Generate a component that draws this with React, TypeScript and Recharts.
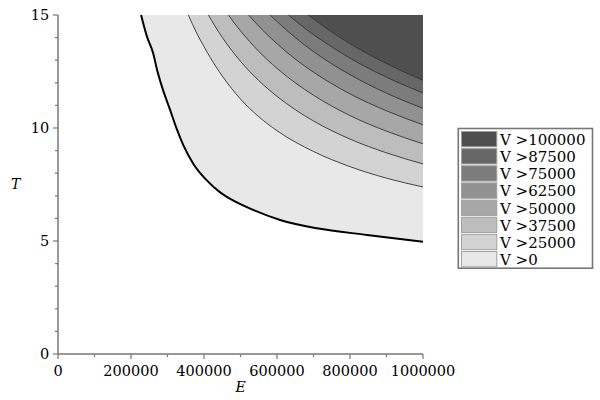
import { ComposedChart, Area, XAxis, YAxis, Legend } from 'recharts';

const FONT = '"DejaVu Serif", serif';
const AXIS = '#777777';

// contour levels, lowest first
const LEVELS = ['V >0', 'V >25000', 'V >37500', 'V >50000', 'V >62500', 'V >75000', 'V >87500', 'V >100000'];
const FILLS = ['#e8e8e8', '#d3d3d3', '#bdbdbd', '#a7a7a7', '#919191', '#7c7c7c', '#676767', '#4f4f4f'];

// each contour as E values and the T
const V0_E = [227600, 244000, 260500, 271500, 285200, 307100, 325500, 343600, 371000, 407700, 444200, 472000, 535500, 608700, 709400, 846500, 1000000];
const V0_T = [15, 14.03, 13.32, 12.57, 11.81, 10.8, 9.95, 9.23, 8.41, 7.68, 7.15, 6.86, 6.37, 5.93, 5.56, 5.27, 4.97];

const V25_E = [357000, 380000, 400000, 417000, 450000, 500000, 550000, 600000, 700000, 800000, 900000, 1000000];
const V25_T = [15, 14.2, 13.6, 13.12, 12.3, 11.28, 10.5, 9.88, 8.96, 8.29, 7.78, 7.39];

const V37_E = [412000, 430000, 450000, 500000, 550000, 600000, 650000, 700000, 800000, 900000, 1000000];
const V37_T = [15, 14.51, 14.01, 12.95, 12.1, 11.4, 10.81, 10.31, 9.51, 8.9, 8.41];

const V50_E = [467000, 485000, 500000, 550000, 600000, 650000, 700000, 800000, 900000, 1000000];
const V50_T = [15, 14.6, 14.3, 13.39, 12.64, 12.0, 11.45, 10.55, 9.86, 9.3];

const V62_E = [522000, 540000, 560000, 600000, 650000, 700000, 800000, 900000, 1000000];
const V62_T = [15, 14.68, 14.34, 13.73, 13.05, 12.47, 11.51, 10.76, 10.14];

const V75_E = [581000, 600000, 650000, 700000, 750000, 800000, 900000, 1000000];
const V75_T = [15, 14.71, 14.0, 13.38, 12.84, 12.36, 11.54, 10.87];

const V87_E = [631500, 650000, 700000, 750000, 800000, 900000, 1000000];
const V87_T = [15, 14.75, 14.13, 13.59, 13.09, 12.25, 11.55];

const V100_E = [686000, 700000, 750000, 800000, 900000, 1000000];
const V100_T = [15, 14.83, 14.25, 13.73, 12.85, 12.11];

const E_TICKS = [0, 100000, 200000, 300000, 400000, 500000, 600000, 700000, 800000, 900000, 1000000];
const T_TICKS = [0, 1, 2, 3, 4, 5, 6, 7, 8, 9, 10, 11, 12, 13, 14, 15];

const CONTOURS: [number[], number[]][] = [
  [V0_E, V0_T],
  [V25_E, V25_T],
  [V37_E, V37_T],
  [V50_E, V50_T],
  [V62_E, V62_T],
  [V75_E, V75_T],
  [V87_E, V87_T],
  [V100_E, V100_T],
];

const rowsByE = new Map<number, Record<string, number>>();
CONTOURS.forEach(([es, ts], i) => {
  es.forEach((e, j) => {
    const row = rowsByE.get(e) ?? { E: e };
    row[`v${i}`] = ts[j];
    rowsByE.set(e, row);
  });
});
const data = [...rowsByE.values()].sort((a, b) => a.E - b.E);

function XTick(props: any) {
  const { x, y, payload } = props;
  const major = payload.value % 200000 === 0;
  return (
    <g>
      <line x1={x} x2={x} y1={y} y2={y + (major ? 5 : 3)} stroke={AXIS} strokeWidth={1.2} />
      {major && (
        <text x={x} y={y + 21.5} textAnchor="middle" fontSize={14.5} fontFamily={FONT} fill="#000">
          {payload.value}
        </text>
      )}
    </g>
  );
}

function YTick(props: any) {
  const { x, y, payload } = props;
  const major = payload.value % 5 === 0;
  return (
    <g>
      <line x1={x - (major ? 5 : 3)} x2={x} y1={y} y2={y} stroke={AXIS} strokeWidth={1.2} />
      {major && (
        <text x={x - 8.7} y={y + 5.2} textAnchor="end" fontSize={14.5} fontFamily={FONT} fill="#000">
          {payload.value}
        </text>
      )}
    </g>
  );
}

function renderLegend() {
  const items = LEVELS.map((label, i) => ({ label, fill: FILLS[i] })).reverse();
  return (
    <svg width={138} height={144} style={{ display: 'block' }}>
      <rect x={1.3} y={1.5} width={134.2} height={139.7} fill="#fff" stroke={AXIS} strokeWidth={1.6} />
      {items.map((it, i) => (
        <g key={it.label}>
          <rect x={4.5} y={4.5 + i * 17.15} width={35.3} height={15.3} fill={it.fill} stroke="#a0a0a0" strokeWidth={1} />
          <text x={43} y={18 + i * 17.15} fontSize={15} fontFamily={FONT} fill="#000">
            {it.label}
          </text>
        </g>
      ))}
    </svg>
  );
}

export default function App() {
  return (
    <div style={{ position: 'absolute', left: 0, top: 0, fontFamily: FONT }}>
      <ComposedChart width={600} height={400} data={data} margin={{ top: 15, right: 177, bottom: 6, left: 8 }}>
        <XAxis
          dataKey="E"
          type="number"
          domain={[0, 1000000]}
          ticks={E_TICKS}
          interval={0}
          tickSize={0}
          tickMargin={0}
          tickLine={false}
          tick={<XTick />}
          height={40}
          axisLine={{ stroke: AXIS, strokeWidth: 1.5 }}
          label={{ value: 'E', position: 'insideBottom', offset: 2, style: { fontStyle: 'italic', fontSize: 14, fill: '#000', fontFamily: FONT } }}
        />
        <YAxis
          type="number"
          domain={[0, 15]}
          ticks={T_TICKS}
          interval={0}
          tickSize={0}
          tickMargin={0}
          tickLine={false}
          tick={<YTick />}
          width={50}
          axisLine={{ stroke: AXIS, strokeWidth: 1.5 }}
          label={{ value: 'T', position: 'insideLeft', offset: 3, style: { fontStyle: 'italic', fontSize: 14, fill: '#000', fontFamily: FONT } }}
        />
        {LEVELS.map((label, i) => (
          <Area
            key={label}
            name={label}
            dataKey={`v${i}`}
            type="monotone"
            baseValue={15}
            connectNulls
            fill={FILLS[i]}
            fillOpacity={1}
            stroke={i === 0 ? '#000' : '#333'}
            strokeWidth={i === 0 ? 2 : 0.9}
            dot={false}
            activeDot={false}
            isAnimationActive={false}
          />
        ))}
        <Legend
          layout="horizontal"
          align="center"
          verticalAlign="middle"
          content={renderLegend}
          wrapperStyle={{ left: 457, top: 127, width: 138, height: 144 }}
        />
      </ComposedChart>
    </div>
  );
}
